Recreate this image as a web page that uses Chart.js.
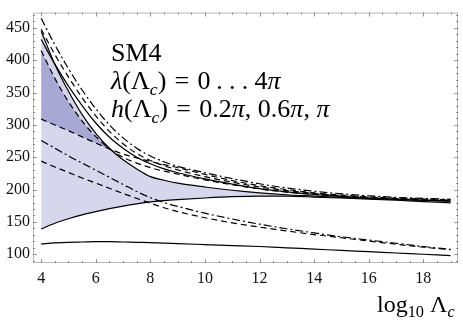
<!DOCTYPE html>
<html>
<head>
<meta charset="utf-8">
<script src="https://cdn.jsdelivr.net/npm/chart.js@4.4.1/dist/chart.umd.min.js"></script>
<style>
  body { margin: 0; background: #fff; }
  #wrap { position: relative; width: 463px; height: 324px; }
  .lbl { position: absolute; font-family: "Liberation Serif", "Times New Roman", serif; color: #000; white-space: nowrap; }
  .lbl i { font-style: italic; }
  .lbl sub { font-size: 0.68em; vertical-align: -0.32em; line-height: 0; }
  #note { left: 111px; top: 39px; font-size: 26px; line-height: 28px; }
  #note .eq { margin: 0 0.32em; }
  #note .dots { margin: 0 0 0 0.22em; letter-spacing: 0.24em; }
  #xtitle { left: 377px; top: 290px; font-size: 24px; line-height: 28px; }
</style>
</head>
<body>
<div id="wrap">
  <canvas id="chart" width="463" height="324"></canvas>
  <div class="lbl" id="note">SM4<br><i>λ</i>(Λ<sub><i>c</i></sub>)<span class="eq">=</span>0<span class="dots">...</span>4<i>π</i><br><i>h</i>(Λ<sub><i>c</i></sub>)<span class="eq">=</span>0.2<i>π</i>, 0.6<i>π</i>, <i>π</i></div>
  <div class="lbl" id="xtitle">log<sub>10</sub> Λ<sub><i>c</i></sub></div>
</div>
<script>
// log10 Lambda_c
const xVals = [4, 4.5, 5, 5.5, 6, 6.5, 7, 7.5, 8, 8.5, 9, 10, 11, 12, 13, 14, 15, 16, 17, 18, 19];

// upper bundle
const ddUp  = [465, 424, 387, 354, 325, 300, 280, 264, 252, 243, 236, 226, 217, 209, 202.5, 197.5, 193.5, 190.5, 188, 186.5, 185];
const dUp   = [448, 409, 374, 342, 314, 290, 271, 256, 245, 237, 230.5, 220, 211.5, 204, 198.5, 194, 190.5, 188, 186, 184.5, 183.5];
const sUp2  = [432, 394, 360, 330, 303, 281, 264, 250, 240, 232, 226, 216.5, 208.5, 201.5, 196.5, 192.5, 189.5, 187, 185, 183.5, 182.5];
const dDark = [415, 372, 336, 306, 282, 263, 250, 241, 234, 228.5, 224, 215, 207.5, 201, 196, 192.5, 189.5, 187, 185, 183.5, 182.5];
const d309  = [309, 300, 291, 281.5, 272, 263, 255, 249, 243.5, 238.5, 234, 223.5, 214, 206, 200, 195, 191.5, 189, 187, 185.5, 184];
// shaded band
const sUp   = [445, 394, 352, 316, 287, 264, 246, 232, 220, 214.5, 210, 204, 199, 195, 192, 190, 188, 186.5, 185, 183.5, 182];
const sLow  = [139, 148, 155, 161, 166, 170.5, 174.5, 178, 181, 183, 184.5, 187, 189, 190, 189.8, 188.5, 187, 185.3, 183.5, 181.5, 179.5];
// lower lines
const ddLow = [276, 264, 252, 241, 230, 219, 208, 197, 187.5, 180, 174, 163.5, 154.5, 146.5, 139.5, 133, 127, 122, 117, 112, 107.5];
const dLow  = [244, 235, 226.5, 218, 210, 202, 194, 186.5, 179, 172, 166, 156.5, 148.5, 142, 136, 130.5, 125.5, 120.5, 115.5, 111, 107];
const sBot  = [116, 117.5, 118.5, 119, 119.5, 119.5, 119, 118.5, 118, 117.3, 116.5, 115, 113.5, 112, 110, 108, 106, 104, 102, 100, 98];

const xTicks = [4, 6, 8, 10, 12, 14, 16, 18];
const yTicks = [100, 150, 200, 250, 300, 350, 400, 450];

const apex = 6; // points up to x = 6.5, where the dark triangle closes

function pts(ys, n) {
    const out = xVals.map((x, i) => ({ x: x, y: ys[i] }));
    return n ? out.slice(0, n) : out;
}

const DASH = [6, 4];
const DASHDOT = [8, 3, 2, 3];
const tickFont = { family: "'Liberation Serif', serif", size: 16 };

function line(ys, dash) {
    return {
        data: pts(ys),
        borderColor: "#000",
        borderWidth: 1.2,
        borderDash: dash || [],
        fill: false,
    };
}

const framePlugin = {
    id: "frame",
    afterDatasetsDraw(chart) {
        const { ctx, chartArea: a, scales } = chart;
        ctx.save();
        ctx.strokeStyle = "rgba(0,0,0,0.28)";
        ctx.lineWidth = 1;
        ctx.strokeRect(a.left + 0.5, a.top + 0.5, a.width - 1, a.height - 1);
        ctx.strokeStyle = "rgba(0,0,0,0.4)";
        ctx.beginPath();
        for (let v = 4; v <= 19; v += 0.5) {
            const px = Math.round(scales.x.getPixelForValue(v)) + 0.5;
            const len = v % 2 === 0 ? 4 : 2;
            ctx.moveTo(px, a.bottom); ctx.lineTo(px, a.bottom - len);
            ctx.moveTo(px, a.top); ctx.lineTo(px, a.top + len);
        }
        for (let v = 90; v <= 470; v += 10) {
            const py = Math.round(scales.y.getPixelForValue(v)) + 0.5;
            const len = v % 50 === 0 ? 4 : 2;
            ctx.moveTo(a.left, py); ctx.lineTo(a.left + len, py);
            ctx.moveTo(a.right, py); ctx.lineTo(a.right - len, py);
        }
        ctx.stroke();
        ctx.restore();
    }
};

new Chart(document.getElementById("chart"), {
    type: "line",
    data: {
        datasets: [
            // dark overlap triangle
            { data: pts(dDark, apex), borderWidth: 0, borderColor: "transparent", backgroundColor: "rgb(168,168,212)", fill: "+1" },
            { data: pts(d309, apex), borderWidth: 0, borderColor: "transparent", fill: false },
            // light band
            { data: pts(sUp), borderColor: "#000", borderWidth: 1.2, backgroundColor: "rgb(214,214,236)", fill: "+1" },
            line(sLow),
            line(sUp2),
            line(dUp, DASH),
            line(ddUp, DASHDOT),
            line(dDark, DASH),
            line(d309, DASH),
            line(ddLow, DASHDOT),
            line(dLow, DASH),
            line(sBot),
        ],
    },
    options: {
        responsive: false,
        animation: false,
        layout: { padding: { top: 2, right: 5, left: 0, bottom: 0 } },
        elements: {
            point: { radius: 0 },
            line: { cubicInterpolationMode: "monotone" },
        },
        plugins: {
            legend: { display: false },
            tooltip: { enabled: false },
            filler: { drawTime: "beforeDatasetsDraw" },
        },
        scales: {
            x: {
                type: "linear",
                min: 3.7,
                max: 19.27,
                grid: { display: false, drawTicks: false },
                border: { display: false },
                ticks: { font: tickFont, color: "#111", padding: 6, maxRotation: 0 },
                afterBuildTicks: (s) => { s.ticks = xTicks.map((v) => ({ value: v })); },
                afterFit: (s) => { s.height = 61; },
            },
            y: {
                type: "linear",
                min: 86.5,
                max: 473.7,
                grid: { display: false, drawTicks: false },
                border: { display: false },
                ticks: { font: tickFont, color: "#111", padding: 3 },
                afterBuildTicks: (s) => { s.ticks = yTicks.map((v) => ({ value: v })); },
                afterFit: (s) => { s.width = 33; },
            },
        },
    },
    plugins: [framePlugin],
});
</script>
</body>
</html>
